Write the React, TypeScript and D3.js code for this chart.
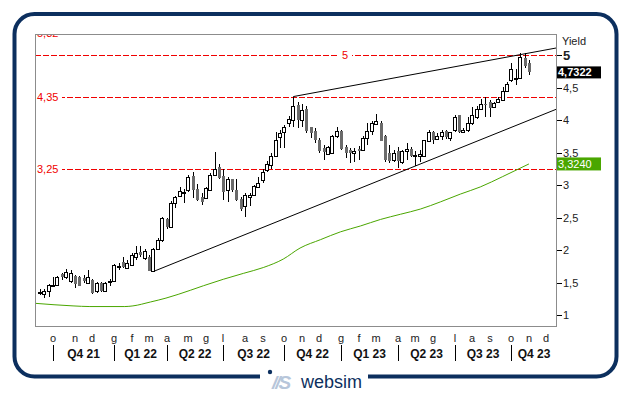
import React from 'react';
import * as d3 from 'd3';

// weekly OHLC of the yield, first week ending Fri 10 Sep 2021
const opens = [
  1.34, 1.33, 1.37, 1.45, 1.46, 1.63, 1.58, 1.53, 1.60, 1.58, 1.57, 1.50, 1.54, 1.37, 1.49, 1.37, 1.51, 1.53, 1.76, 1.82,
  1.73, 1.77, 1.90, 1.97, 1.87, 1.90, 1.68, 2.01, 2.15, 2.47, 2.36, 2.72, 2.83, 2.89, 2.93, 3.14, 2.94, 2.82, 2.80, 2.93,
  3.15, 3.27, 3.14, 2.93, 3.09, 2.92, 2.78, 2.67, 2.82, 2.84, 2.97, 3.07, 3.23, 3.31, 3.44, 3.74, 3.82, 3.95, 4.00, 4.23,
  4.00, 4.17, 3.89, 3.83, 3.70, 3.57, 3.48, 3.49, 3.75, 3.83, 3.58, 3.54, 3.49, 3.55, 3.54, 3.72, 3.83, 3.94, 3.95, 3.75,
  3.49, 3.38, 3.52, 3.36, 3.53, 3.56, 3.45, 3.45, 3.45, 3.68, 3.81, 3.71, 3.76, 3.83, 3.72, 3.85, 4.07, 3.81, 3.85, 3.96,
  4.04, 4.17, 4.25, 4.27, 4.20, 4.28, 4.31, 4.45, 4.62, 4.64, 4.64, 4.96, 4.87,
];
const highs = [
  1.40, 1.40, 1.47, 1.58, 1.60, 1.64, 1.71, 1.69, 1.62, 1.60, 1.62, 1.69, 1.56, 1.51, 1.51, 1.51, 1.55, 1.78, 1.80, 1.90,
  1.84, 1.95, 2.06, 2.06, 2.01, 1.92, 2.03, 2.18, 2.51, 2.49, 2.75, 2.83, 2.97, 2.94, 3.15, 3.20, 3.02, 2.87, 2.97, 3.18,
  3.51, 3.32, 3.25, 3.12, 3.10, 3.09, 2.82, 2.87, 2.88, 3.00, 3.12, 3.24, 3.37, 3.49, 3.82, 3.85, 3.92, 4.06, 4.36, 4.28,
  4.24, 4.21, 3.90, 3.87, 3.72, 3.61, 3.60, 3.77, 3.89, 3.85, 3.62, 3.57, 3.57, 3.60, 3.75, 3.95, 3.99, 4.09, 3.98, 3.77,
  3.62, 3.54, 3.59, 3.54, 3.64, 3.59, 3.52, 3.54, 3.70, 3.85, 3.83, 3.80, 3.85, 3.85, 3.82, 4.08, 4.08, 3.88, 4.04, 4.20,
  4.22, 4.33, 4.36, 4.31, 4.28, 4.36, 4.51, 4.59, 4.87, 4.78, 5.03, 5.03, 4.93,
];
const lows = [
  1.31, 1.26, 1.28, 1.44, 1.45, 1.54, 1.55, 1.50, 1.41, 1.44, 1.50, 1.47, 1.33, 1.34, 1.36, 1.36, 1.45, 1.51, 1.69, 1.72,
  1.71, 1.75, 1.85, 1.90, 1.85, 1.67, 1.67, 2.00, 2.13, 2.33, 2.34, 2.64, 2.81, 2.72, 2.90, 2.80, 2.75, 2.69, 2.79, 2.92,
  3.14, 3.10, 2.77, 2.74, 2.90, 2.76, 2.60, 2.51, 2.67, 2.83, 2.96, 3.03, 3.20, 3.24, 3.43, 3.57, 3.57, 3.90, 3.90, 3.88,
  3.90, 3.80, 3.72, 3.65, 3.49, 3.39, 3.47, 3.48, 3.72, 3.54, 3.42, 3.34, 3.36, 3.39, 3.52, 3.62, 3.77, 3.92, 3.67, 3.36,
  3.34, 3.36, 3.26, 3.33, 3.38, 3.43, 3.30, 3.36, 3.43, 3.67, 3.63, 3.69, 3.69, 3.71, 3.68, 3.81, 3.80, 3.80, 3.81, 3.92,
  4.02, 4.15, 4.05, 4.05, 4.19, 4.27, 4.29, 4.44, 4.59, 4.54, 4.64, 4.80, 4.69,
];
const closes = [
  1.36, 1.37, 1.46, 1.46, 1.58, 1.58, 1.66, 1.64, 1.47, 1.45, 1.53, 1.58, 1.34, 1.49, 1.37, 1.50, 1.52, 1.77, 1.76, 1.74,
  1.80, 1.92, 1.96, 1.92, 1.99, 1.68, 2.01, 2.15, 2.49, 2.36, 2.73, 2.82, 2.91, 2.90, 3.12, 2.93, 2.77, 2.74, 2.95, 3.15,
  3.24, 3.11, 2.90, 3.10, 2.92, 2.77, 2.63, 2.84, 2.84, 2.98, 3.03, 3.20, 3.32, 3.45, 3.70, 3.80, 3.90, 4.02, 4.21, 4.00,
  4.16, 3.83, 3.80, 3.70, 3.52, 3.51, 3.58, 3.75, 3.83, 3.55, 3.49, 3.49, 3.53, 3.52, 3.73, 3.83, 3.95, 3.98, 3.68, 3.39,
  3.37, 3.49, 3.37, 3.52, 3.56, 3.45, 3.46, 3.47, 3.69, 3.81, 3.69, 3.76, 3.81, 3.74, 3.81, 4.05, 3.81, 3.85, 3.96, 4.07,
  4.17, 4.24, 4.23, 4.18, 4.26, 4.32, 4.45, 4.56, 4.78, 4.65, 4.97, 4.83, 4.7322,
];

// moving average (green line)
const maDates = [
  '2021-09-02', '2021-11-02', '2021-11-29', '2022-01-24', '2022-02-06', '2022-03-06', '2022-03-31', '2022-05-09',
  '2022-05-30', '2022-07-01', '2022-08-02', '2022-09-03', '2022-10-05', '2022-11-01', '2022-12-04', '2023-01-05',
  '2023-02-06', '2023-03-10', '2023-04-11', '2023-05-13', '2023-06-14', '2023-07-16', '2023-08-17', '2023-09-22',
  '2023-11-03',
];
const maValues = [
  1.18, 1.14, 1.13, 1.13, 1.14, 1.20, 1.26, 1.38, 1.45, 1.55, 1.64, 1.73, 1.86, 2.03, 2.16, 2.28, 2.37, 2.47, 2.55,
  2.63, 2.74, 2.86, 2.97, 3.13, 3.324,
];

const levels = [5, 4.35, 3.25];
const levelLabels = ['5', '4,35', '3,25'];
const topLabel = '5,32';
const yTicks = [1, 1.5, 2, 2.5, 3, 3.5, 4, 4.5, 5];
const monthLetters = ['g', 'f', 'm', 'a', 'm', 'g', 'l', 'a', 's', 'o', 'n', 'd'];
const lastYield = 4.7322;
const lastMa = 3.324;
// trendlines: start candle index, start value, value at right edge
const upperTrend = { from: 58, start: 4.36, end: 5.11 };
const lowerTrend = { from: 26, start: 1.67, end: 4.17 };

const W = 630;
const H = 394;
const L = 35, T = 34, R = 557, B = 327;
const FONT = 'Liberation Sans, Arial, sans-serif';
const NAVY = '#0c2f5e';
const RED = '#f00000';
const GREEN = '#4aa600';

const fmt = (v: number) => String(v).replace('.', ',');
const fmt4 = (v: number) => v.toFixed(4).replace('.', ',');

export default function App() {
  const parse = d3.timeParse('%Y-%m-%d');
  const firstWeek = new Date(2021, 8, 10);
  const dates = opens.map((_, i) => d3.timeWeek.offset(firstWeek, i));
  const endDate = new Date(2023, 11, 18);

  const x = d3.scaleTime().domain([new Date(2021, 8, 2), endDate]).range([L, R]);
  const y = d3.scaleLinear().domain([1, 5]).range([315, 55]);

  const months = d3.timeMonth.range(new Date(2021, 9, 1), new Date(2024, 0, 1)).map(m => ({
    m,
    x: Math.round(x(d3.timeFriday.ceil(m))),
  }));
  const quarters = months.filter(d => d.m.getMonth() % 3 === 0);

  const maLine = d3.line<number>()
    .x((_, i) => x(parse(maDates[i]) as Date))
    .y(d => y(d))
    .curve(d3.curveMonotoneX);

  const r = 20;
  const fl = 14.5, ft = 14, fr = 616.5, fb = 376.5;
  const framePath = `M260,${fb} H${fl + r} A${r},${r} 0 0 1 ${fl},${fb - r} V${ft + r} A${r},${r} 0 0 1 ${fl + r},${ft} H${fr - r} A${r},${r} 0 0 1 ${fr},${ft + r} V${fb - r} A${r},${r} 0 0 1 ${fr - r},${fb} H368`;

  return (
    <div style={{ position: 'absolute', left: 0, top: 0 }}>
      <svg width={W} height={H} style={{ display: 'block', background: '#fff' }} fontFamily={FONT}>
        <defs>
          <clipPath id="plot">
            <rect x={L} y={T} width={R - L} height={B - T} />
          </clipPath>
        </defs>
        <rect width={W} height={H} fill="#fff" />
        <path d={framePath} fill="none" stroke={NAVY} strokeWidth={4} />

        {/* logo */}
        <circle cx={270} cy={372} r={2.2} fill={NAVY} />
        <text x={272} y={389} fontSize={19} fontWeight="bold" fontStyle="italic" fill="#b7c6da" letterSpacing={-2}>//S</text>
        <text x={301} y={388} fontSize={18} fill={NAVY}>websim</text>

        <g clipPath="url(#plot)">
          {/* levels */}
          {levels.map(v => (
            <line key={v} x1={L} x2={R} y1={Math.round(y(v)) + 0.5} y2={Math.round(y(v)) + 0.5}
              stroke={RED} strokeWidth={1} strokeDasharray="6,2" />
          ))}
          <text x={37} y={37} fontSize={11} fill={RED}>{topLabel}</text>

          {/* moving average */}
          <path d={maLine(maValues) || ''} fill="none" stroke={GREEN} strokeWidth={1} />

          {/* trendlines */}
          <line x1={x(dates[upperTrend.from])} y1={y(upperTrend.start)} x2={R} y2={y(upperTrend.end)} stroke="#000" />
          <line x1={x(dates[lowerTrend.from])} y1={y(lowerTrend.start)} x2={R} y2={y(lowerTrend.end)} stroke="#000" />

          {/* candles */}
          <g shapeRendering="crispEdges">
            {dates.map((d, i) => {
              const cx = Math.round(x(d)) + 0.5;
              const o = opens[i], c = closes[i];
              const up = c >= o;
              const top = Math.round(y(Math.max(o, c)));
              const bot = Math.round(y(Math.min(o, c)));
              return (
                <g key={i}>
                  <line x1={cx} x2={cx} y1={y(highs[i])} y2={y(lows[i])} stroke="#000" />
                  {up ? (
                    <rect x={cx - 2} y={top + 0.5} width={3} height={Math.max(bot - top, 1)} fill="#fff" stroke="#000" />
                  ) : (
                    <rect x={cx - 1.5} y={top} width={3} height={Math.max(bot - top, 1)} fill="#6b6b6b" />
                  )}
                </g>
              );
            })}
          </g>
        </g>

        {/* level labels */}
        {levels.map((v, i) => {
          const mid = i === 0;
          const lx = mid ? 345 : 37;
          return (
            <g key={v}>
              <rect x={mid ? lx - 7 : L + 1} y={y(v) - 6} width={mid ? 14 : 26} height={12} fill="#fff" />
              <text x={lx} y={y(v) + 4} fontSize={11} fill={RED} textAnchor={mid ? 'middle' : 'start'}>{levelLabels[i]}</text>
            </g>
          );
        })}

        {/* plot frame */}
        <rect x={L + 0.5} y={T + 0.5} width={R - L - 1} height={B - T - 1} fill="none" stroke="#8c8c8c" shapeRendering="crispEdges" />

        {/* right axis */}
        <text x={562} y={45} fontSize={11} fill="#222">Yield</text>
        {yTicks.map(v => (
          <g key={v}>
            <line x1={R} x2={R + 5} y1={Math.round(y(v)) + 0.5} y2={Math.round(y(v)) + 0.5} stroke="#000" />
            <text x={R + 6} y={y(v) + (v === 5 ? 5 : 4)} fontSize={v === 5 ? 13 : 11}
              fontWeight={v === 5 ? 'bold' : 'normal'} fill="#222">{fmt(v)}</text>
          </g>
        ))}
        <rect x={R} y={y(lastYield) - 6} width={44} height={12} fill="#000" />
        <text x={R + 1} y={y(lastYield) + 4} fontSize={11} fontWeight="bold" fill="#fff">{fmt4(lastYield)}</text>
        <rect x={R} y={y(lastMa) - 6.5} width={44} height={13} fill={GREEN} />
        <text x={R + 1} y={y(lastMa) + 4} fontSize={11} fill="#fff">{fmt4(lastMa)}</text>

        {/* time axis */}
        {months.map(d => (
          <text key={+d.m} x={d.x} y={342} fontSize={11} fill="#222" textAnchor="middle">{monthLetters[d.m.getMonth()]}</text>
        ))}
        {quarters.map((d, i) => {
          const next = i < quarters.length - 1 ? quarters[i + 1].x : R;
          const q = Math.floor(d.m.getMonth() / 3) + 1;
          return (
            <g key={+d.m}>
              <line x1={d.x + 0.5} x2={d.x + 0.5} y1={345} y2={361} stroke="#000" />
              <text x={(d.x + next) / 2} y={358} fontSize={12} fontWeight="bold" fill="#111" textAnchor="middle">
                {`Q${q} ${String(d.m.getFullYear()).slice(2)}`}
              </text>
            </g>
          );
        })}
      </svg>
    </div>
  );
}
